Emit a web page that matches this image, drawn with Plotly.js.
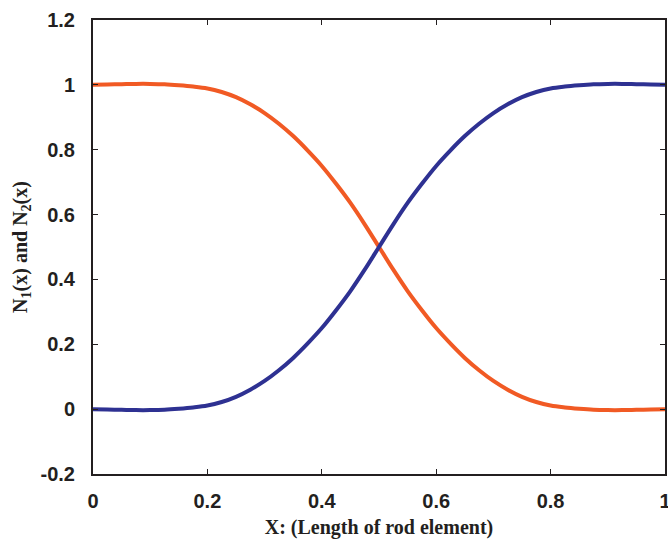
<!DOCTYPE html>
<html>
<head>
<meta charset="utf-8">
<script src="https://cdn.plot.ly/plotly-3.0.1.min.js"></script>
<style>html,body{margin:0;padding:0;background:#fff;}#chart{width:668px;height:539px;}</style>
</head>
<body>
<div id="chart"></div>
<script>
const xValues = [0, 0.025, 0.05, 0.075, 0.1, 0.125, 0.15, 0.175, 0.2, 0.225, 0.25, 0.275, 0.3, 0.325, 0.35, 0.375, 0.4, 0.425, 0.45, 0.475, 0.5,
                 0.525, 0.55, 0.575, 0.6, 0.625, 0.65, 0.675, 0.7, 0.725, 0.75, 0.775, 0.8, 0.825, 0.85, 0.875, 0.9, 0.925, 0.95, 0.975, 1.0];
const n1Values = [1.0, 1.001, 1.002, 1.003, 1.003, 1.002, 0.999, 0.995, 0.989, 0.978, 0.962, 0.94, 0.913, 0.88, 0.842, 0.798, 0.75, 0.695, 0.636, 0.57, 0.5,
                  0.43, 0.364, 0.305, 0.25, 0.202, 0.158, 0.12, 0.087, 0.06, 0.038, 0.022, 0.011, 0.005, 0.001, -0.002, -0.003, -0.003, -0.002, -0.001, 0.0];
const n2Values = [0.0, -0.001, -0.002, -0.003, -0.003, -0.002, 0.001, 0.005, 0.011, 0.022, 0.038, 0.06, 0.087, 0.12, 0.158, 0.202, 0.25, 0.305, 0.364, 0.43, 0.5,
                  0.57, 0.636, 0.695, 0.75, 0.798, 0.842, 0.88, 0.913, 0.94, 0.962, 0.978, 0.989, 0.995, 0.999, 1.002, 1.003, 1.003, 1.002, 1.001, 1.0];
const xTickVals = [0, 0.2, 0.4, 0.6, 0.8, 1];
const xTickText = ["0", "0.2", "0.4", "0.6", "0.8", "1"];
const yTickVals = [-0.2, 0, 0.2, 0.4, 0.6, 0.8, 1, 1.2];
const yTickText = ["-0.2", "0", "0.2", "0.4", "0.6", "0.8", "1", "1.2"];

const traces = [
  {x: xValues, y: n1Values, mode: 'lines', name: 'N1(x)',
   line: {color: '#F15A24', width: 4, shape: 'spline', smoothing: 1}},
  {x: xValues, y: n2Values, mode: 'lines', name: 'N2(x)',
   line: {color: '#2E3192', width: 4, shape: 'spline', smoothing: 1}}
];

const tickFont = {family: 'Liberation Sans, Arial, sans-serif', size: 20, color: '#231F20', weight: 'bold'};
const titleFont = {family: 'Liberation Serif, Times New Roman, serif', size: 20, color: '#231F20', weight: 'bold'};

const layout = {
  width: 668, height: 539,
  margin: {l: 93, r: 3, t: 20, b: 65},
  paper_bgcolor: '#fff', plot_bgcolor: '#fff',
  showlegend: false,
  xaxis: {
    range: [0, 1], tickvals: xTickVals, ticktext: xTickText,
    ticks: 'inside', ticklen: 5, tickwidth: 1, tickcolor: '#231F20',
    showline: true, linecolor: '#231F20', linewidth: 2, mirror: 'ticks',
    showgrid: false, zeroline: false, tickfont: tickFont,
    ticklabelstandoff: 8, ticklabeloverflow: 'allow', automargin: false,
    title: {text: '<b>X: (Length of rod element)</b>', font: titleFont, standoff: 17}
  },
  yaxis: {
    range: [-0.2, 1.2], tickvals: yTickVals, ticktext: yTickText,
    ticks: 'inside', ticklen: 5, tickwidth: 1, tickcolor: '#231F20',
    showline: true, linecolor: '#231F20', linewidth: 2, mirror: 'ticks',
    showgrid: false, zeroline: false, tickfont: tickFont,
    ticklabelstandoff: 12, ticklabeloverflow: 'allow', automargin: false,
    title: {text: '<b>N<sub>1</sub>(x) and N<sub>2</sub>(x)</b>', font: titleFont, standoff: 8}
  }
};

Plotly.newPlot('chart', traces, layout, {displayModeBar: false, staticPlot: true});
</script>
</body>
</html>
